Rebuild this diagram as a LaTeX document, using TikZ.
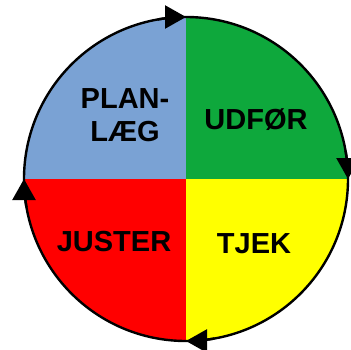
\documentclass[tikz,border=0pt]{standalone}
\usepackage{fontspec}
\setmainfont{Liberation Sans}
\usetikzlibrary{arrows.meta}
\definecolor{qblue}{RGB}{122,162,212}
\definecolor{qgreen}{RGB}{14,168,60}
\definecolor{qred}{RGB}{255,0,0}
\definecolor{qyellow}{RGB}{255,255,0}
\tikzset{
  lbl/.style={font=\fontsize{29}{33}\selectfont\bfseries, align=center, text=black},
  ring/.style={line width=2.4pt, draw=black},
  cw/.style={line width=2.4pt, -{Triangle[length=21pt,width=23pt]}}
}
\begin{document}
\begin{tikzpicture}[x=1pt,y=1pt]
\useasboundingbox (0,0) rectangle (351,349);
\coordinate (c) at (186,170);
\def\R{162}
\fill[qblue]   (c) -- ++(90:\R)  arc (90:180:\R)  -- cycle;
\fill[qgreen]  (c) -- ++(0:\R)   arc (0:90:\R)    -- cycle;
\fill[qred]    (c) -- ++(180:\R) arc (180:270:\R) -- cycle;
\fill[qyellow] (c) -- ++(270:\R) arc (270:360:\R) -- cycle;
\draw[ring] (c) circle (\R);
\draw[cw] (c) ++(100:\R) arc (100:90:\R);
\draw[cw] (c) ++(10:\R) arc (10:0:\R);
\draw[cw] (c) ++(280:\R) arc (280:270:\R);
\draw[cw] (c) ++(190:\R) arc (190:180:\R);
\node[lbl] (plan) at (125,234) {PLAN-\\LÆG};
\node[lbl] (udfor) at (256,229) {UDFØR};
\node[lbl] (juster) at (114,107) {JUSTER};
\node[lbl] (tjek) at (254,105) {TJEK};
\end{tikzpicture}
\end{document}
